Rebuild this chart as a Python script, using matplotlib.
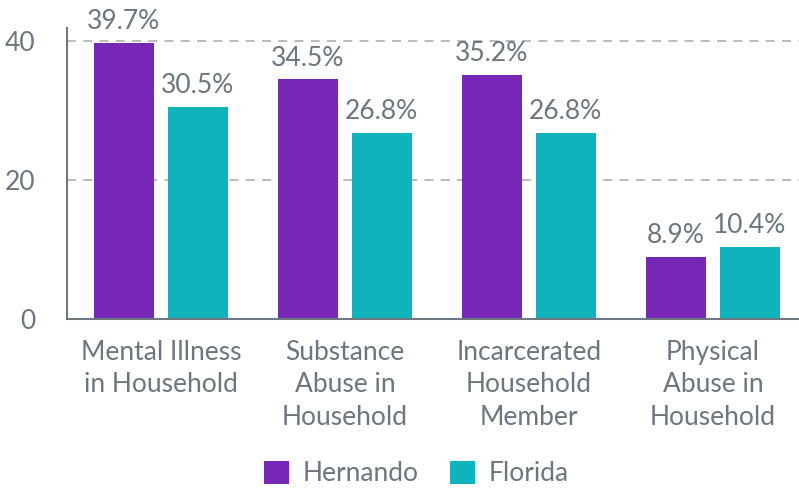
import matplotlib.pyplot as plt
import numpy as np

plt.rcParams['font.family'] = ['Lato', 'DejaVu Sans']

categories = ['Mental Illness\nin Household', 'Substance\nAbuse in\nHousehold',
              'Incarcerated\nHousehold\nMember', 'Physical\nAbuse in\nHousehold']
hernando = [39.7, 34.5, 35.2, 8.9]
florida = [30.5, 26.8, 26.8, 10.4]
yticks = [0, 20, 40]

PURPLE = '#7627B5'
TEAL = '#10B2BB'
TEXT = '#6B7680'
AXIS = '#6F7780'
FS = 19

fig = plt.figure(figsize=(7.99, 4.88), dpi=100)
ax = fig.add_axes([0.0839, 0.3463, 1 - 0.0839, 0.9426 - 0.3463])

x = np.arange(len(categories))
w = 0.326
off = 0.201
b1 = ax.bar(x - off, hernando, w, color=PURPLE, label='Hernando', zorder=3)
b2 = ax.bar(x + off, florida, w, color=TEAL, label='Florida', zorder=3)

for bars, vals in ((b1, hernando), (b2, florida)):
    for rect, v in zip(bars, vals):
        ax.annotate(f'{v}%', (rect.get_x() + rect.get_width() / 2, v),
                    xytext=(0, 10), textcoords='offset points',
                    ha='center', va='baseline', fontsize=FS, color=TEXT)

ax.set_xlim(-0.51, 3.468)
ax.set_ylim(0, 41.9)
ax.set_xticks(x)
ax.set_xticklabels(categories, fontsize=FS, color=TEXT, linespacing=1.38)
ax.set_yticks(yticks)
ax.set_yticklabels([str(t) for t in yticks], fontsize=FS, color=TEXT)
ax.tick_params(axis='x', length=0, pad=15)
ax.tick_params(axis='y', length=0, pad=23)

for t in (20, 40):
    ax.axhline(t, color='#B5B5B5', lw=1.3, ls=(0, (5, 4)), zorder=1)

for s in ('top', 'right'):
    ax.spines[s].set_visible(False)
ax.spines['left'].set_color(AXIS)
ax.spines['left'].set_linewidth(1.5)
ax.spines['bottom'].set_color(AXIS)
ax.spines['bottom'].set_linewidth(1.5)
ax.spines['bottom'].set_zorder(4)

fig.legend(handles=[b1, b2], loc='lower center', bbox_to_anchor=(0.521, -0.045),
           ncol=2, frameon=False, fontsize=FS, labelcolor=TEXT,
           handlelength=0.95, handleheight=0.95, handletextpad=0.5, columnspacing=1.2)

fig.savefig('out.png', dpi=100)
